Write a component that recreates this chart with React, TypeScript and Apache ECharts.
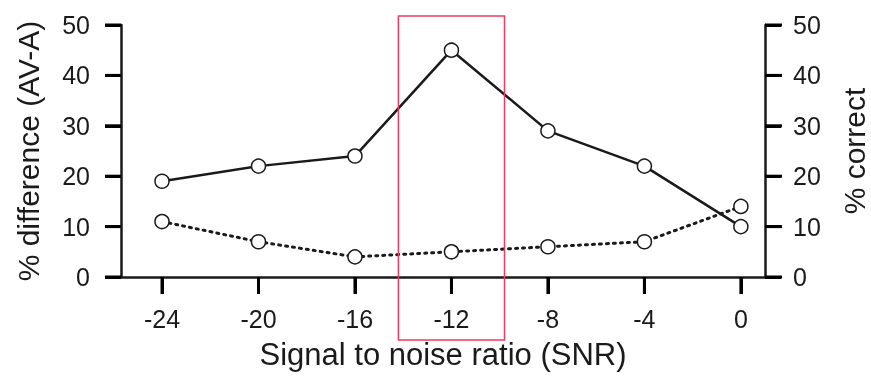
import React, { useEffect, useRef } from "react";
import * as echarts from "echarts";

const snr = [-24, -20, -16, -12, -8, -4, 0];
const differenceAVA = [19, 22, 24, 45, 29, 22, 10];
const percentCorrect = [11, 7, 4, 5, 6, 7, 14];
const xTicks = [-24, -20, -16, -12, -8, -4, 0];
const yTicks = [0, 10, 20, 30, 40, 50];
const highlightRange = [-14.2, -9.8];

const FONT = "'Liberation Sans', Arial, Helvetica, sans-serif";
const INK = "#1a1a1a";

function yAxis(position: string, name: string, nameGap: number, margin: number) {
  return {
    type: "value",
    position,
    min: 0,
    max: 50,
    interval: 10,
    name,
    nameLocation: "middle",
    nameGap,
    nameTextStyle: { fontSize: 30, color: INK, fontFamily: FONT },
    axisLine: { show: true, onZero: false, lineStyle: { color: INK, width: 2.5 } },
    axisTick: { show: true, length: 16, lineStyle: { color: "#000000", width: 3 } },
    axisLabel: { fontSize: 25, color: INK, fontFamily: FONT, margin },
    splitLine: { show: false },
  };
}

export default function App() {
  const ref = useRef<HTMLDivElement>(null);
  useEffect(() => {
    const chart = echarts.init(ref.current!, null, { renderer: "svg" });
    chart.setOption({
      animation: false,
      grid: { left: 121, right: 106, top: 25, bottom: 101, outerBoundsMode: "none", containLabel: false },
      xAxis: {
        type: "value",
        min: -25.7,
        max: 1,
        name: "Signal to noise ratio (SNR)",
        nameLocation: "middle",
        nameGap: 62,
        nameTextStyle: { fontSize: 31, color: INK, fontFamily: FONT },
        axisLine: { show: true, onZero: false, lineStyle: { color: INK, width: 2.5 } },
        axisTick: { show: true, length: 17, customValues: xTicks, lineStyle: { color: "#000000", width: 3 } },
        axisLabel: { fontSize: 25, color: INK, fontFamily: FONT, margin: 29, customValues: xTicks },
        splitLine: { show: false },
      },
      yAxis: [
        yAxis("left", "% difference (AV-A)", 78, 31),
        yAxis("right", "% correct", 74, 28),
      ],
      series: [
        {
          type: "line",
          yAxisIndex: 0,
          data: snr.map((x, i) => [x, differenceAVA[i]]),
          symbol: "circle",
          symbolSize: 14,
          itemStyle: { color: "#ffffff", borderColor: INK, borderWidth: 1.5 },
          lineStyle: { color: INK, width: 2.5, type: "solid" },
          z: 3,
        },
        {
          type: "line",
          yAxisIndex: 1,
          data: snr.map((x, i) => [x, percentCorrect[i]]),
          symbol: "circle",
          symbolSize: 14,
          itemStyle: { color: "#ffffff", borderColor: INK, borderWidth: 1.5 },
          lineStyle: { color: INK, width: 3, type: [2, 5], cap: "round" },
          z: 3,
        },
      ],
    });

    const xPx = (v: number) => chart.convertToPixel({ xAxisIndex: 0 }, v) as number;
    const yPx = (v: number) => chart.convertToPixel({ yAxisIndex: 0 }, v) as number;
    const xMinPx = xPx(-25.7);
    const xMaxPx = xPx(1);
    const baseY = yPx(0);
    const ticks: any[] = [];
    xTicks.forEach((v) => {
      const px = xPx(v);
      ticks.push({
        type: "line",
        z: 20,
        shape: { x1: px, y1: baseY, x2: px, y2: baseY + 17 },
        style: { stroke: "#000000", lineWidth: 3 },
      });
    });
    yTicks.forEach((v) => {
      const py = yPx(v);
      ticks.push({
        type: "line",
        z: 20,
        shape: { x1: xMinPx - 16, y1: py, x2: xMinPx, y2: py },
        style: { stroke: "#000000", lineWidth: 3 },
      });
      ticks.push({
        type: "line",
        z: 20,
        shape: { x1: xMaxPx, y1: py, x2: xMaxPx + 17, y2: py },
        style: { stroke: "#000000", lineWidth: 3 },
      });
    });
    const x0 = xPx(highlightRange[0]);
    const x1 = xPx(highlightRange[1]);
    chart.setOption({
      graphic: [
        ...ticks,
        {
          type: "rect",
          z: 10,
          shape: { x: x0, y: 16, width: x1 - x0, height: 324 },
          style: { fill: "none", stroke: "#ee3b5f", lineWidth: 1.5 },
        },
      ],
    });
    return () => chart.dispose();
  }, []);
  return (
    <div ref={ref} style={{ position: "fixed", left: 0, top: 0, width: 871, height: 378 }} />
  );
}
